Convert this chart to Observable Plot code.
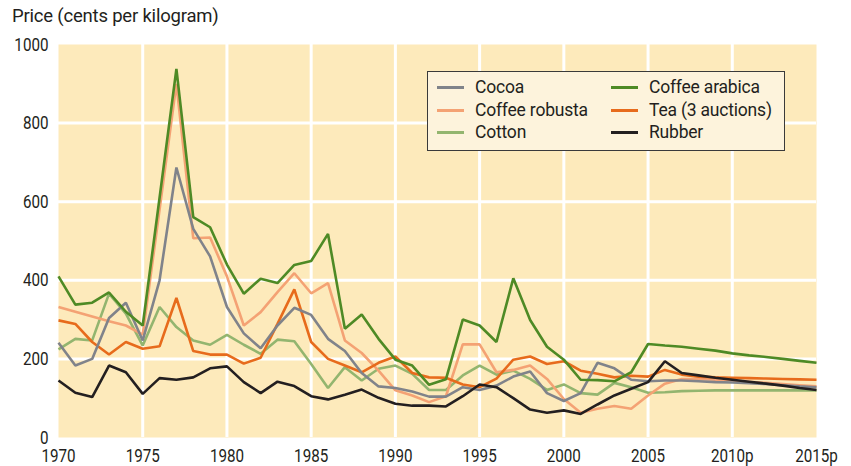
<!DOCTYPE html>
<html>
<head>
<meta charset="utf-8">
<script src="https://cdn.jsdelivr.net/npm/d3@7"></script>
<script src="https://cdn.jsdelivr.net/npm/@observablehq/plot@0.6"></script>
<style>
  html, body { margin: 0; padding: 0; background: #ffffff; }
  #wrap { position: relative; width: 851px; height: 466px; font-family: "Roboto", sans-serif; color: #231f20; }
  #title { position: absolute; left: 12px; top: 5px; font-size: 18.5px; line-height: 22px; white-space: nowrap; letter-spacing: -0.2px; }
  #legend { position: absolute; left: 427px; top: 71px; width: 358px; height: 80px; background: #fdf3dc; border: 1.3px solid #3a3a3a; box-sizing: border-box; }
  .item { position: absolute; font-size: 17.5px; line-height: 20px; white-space: nowrap; letter-spacing: -0.2px; }
  .sw { position: absolute; top: 9px; width: 27px; height: 3px; }
  .lbl { position: absolute; left: 38px; top: 0; }
</style>
</head>
<body>
<div id="wrap">
  <div id="chart"></div>
  <div id="title">Price (cents per kilogram)</div>
  <div id="legend"></div>
</div>
<script>
const years = d3.range(1970, 2016);
const seriesNames = ["Cocoa", "Coffee robusta", "Cotton", "Coffee arabica", "Tea (3 auctions)", "Rubber"];
const seriesColors = ["#80838a", "#f4a274", "#93b56f", "#4e8a25", "#e76b1c", "#231f20"];

const cocoa = [241, 183, 200, 304, 343, 247, 400, 687, 531, 461, 332, 265, 227, 285, 330, 312, 251, 220, 164, 130, 126, 117, 104, 104, 128, 121, 132, 155, 168, 113, 93, 113, 190, 176, 147, 143, 145, 145, 143, 141, 140, 138, 136, 133, 130, 128];
const coffeeRobusta = [332, 320, 308, 296, 285, 262, 580, 900, 507, 509, 410, 285, 319, 370, 418, 367, 393, 247, 215, 170, 120, 107, 90, 105, 237, 237, 166, 172, 183, 149, 98, 63, 73, 80, 73, 107, 137, 149, 149, 147, 145, 142, 139, 136, 133, 130];
const cotton = [224, 251, 247, 366, 315, 234, 332, 281, 247, 236, 261, 236, 213, 249, 245, 187, 126, 179, 145, 175, 183, 162, 121, 121, 158, 183, 160, 170, 149, 121, 135, 113, 109, 139, 128, 114, 115, 118, 119, 120, 120, 120, 120, 120, 120, 120];
const coffeeArabica = [410, 338, 343, 369, 320, 285, 610, 938, 561, 535, 440, 366, 404, 393, 439, 449, 518, 277, 313, 251, 198, 183, 134, 148, 300, 285, 243, 405, 299, 231, 198, 147, 146, 143, 166, 238, 234, 231, 226, 221, 214, 209, 205, 200, 195, 190];
const tea = [298, 289, 243, 211, 243, 226, 232, 355, 220, 211, 211, 188, 203, 289, 377, 243, 200, 183, 166, 190, 206, 164, 153, 152, 135, 128, 150, 198, 206, 187, 194, 170, 162, 153, 157, 155, 172, 160, 155, 153, 152, 151, 150, 149, 148, 147];
const rubber = [145, 114, 103, 183, 166, 111, 151, 147, 153, 176, 181, 141, 113, 142, 131, 105, 97, 109, 122, 101, 86, 81, 81, 79, 105, 135, 128, 100, 71, 63, 69, 60, 84, 107, 124, 141, 194, 164, 158, 152, 147, 142, 137, 132, 126, 121];

const xTicks = [1970, 1975, 1980, 1985, 1990, 1995, 2000, 2005, 2010, 2015];
const xTickLabels = ["1970", "1975", "1980", "1985", "1990", "1995", "2000", "2005", "2010p", "2015p"];
const yTicks = [0, 200, 400, 600, 800, 1000];
const yGrid = [200, 400, 600, 800];
const xGrid = [1975, 1980, 1985, 1990, 1995, 2000, 2005, 2010];

const seriesValues = [cocoa, coffeeRobusta, cotton, coffeeArabica, tea, rubber];
const drawOrder = ["Cotton", "Coffee robusta", "Tea (3 auctions)", "Cocoa", "Rubber", "Coffee arabica"];
const rows = [];
for (const name of drawOrder) {
  const vals = seriesValues[seriesNames.indexOf(name)];
  years.forEach((y, i) => rows.push({series: name, year: y, value: vals[i]}));
}

const fmtX = d => xTickLabels[xTicks.indexOf(d)];

const chart = Plot.plot({
  width: 851,
  height: 466,
  marginTop: 44,
  marginBottom: 29,
  marginLeft: 58,
  marginRight: 35,
  style: {fontFamily: '"Roboto", sans-serif', fontSize: "19px", color: "#231f20", background: "transparent", overflow: "visible"},
  x: {domain: [1970, 2015], label: null},
  y: {domain: [0, 1000], label: null},
  color: {domain: seriesNames, range: seriesColors},
  marks: [
    Plot.frame({fill: "#fdeabb", stroke: null}),
    Plot.ruleY(yGrid, {stroke: "#ffffff", strokeWidth: 3, strokeOpacity: 1}),
    Plot.ruleX(xGrid, {stroke: "#ffffff", strokeWidth: 3, strokeOpacity: 1}),
    Plot.axisX({ticks: xTicks, tickFormat: fmtX, tickSize: 0, tickPadding: 11, fontSize: 19}),
    Plot.axisY({ticks: yTicks, tickFormat: d => String(d), tickSize: 0, tickPadding: 10, fontSize: 19}),
    Plot.line(rows, {x: "year", y: "value", z: "series", stroke: "series", strokeWidth: 2.6, strokeLinejoin: "miter", strokeLinecap: "butt"})
  ]
});
document.getElementById("chart").appendChild(chart);

// condense axis tick labels horizontally around their anchor point
chart.querySelectorAll('g[aria-label="x-axis tick label"] text, g[aria-label="y-axis tick label"] text').forEach(t => {
  const tr = t.getAttribute("transform") || "";
  t.setAttribute("transform", tr + " scale(0.8,1)");
});

// legend built from series names and colors
const legend = document.getElementById("legend");
const legendLayout = [["Cocoa", 0, 0], ["Coffee robusta", 0, 1], ["Cotton", 0, 2], ["Coffee arabica", 1, 0], ["Tea (3 auctions)", 1, 1], ["Rubber", 1, 2]];
for (const [name, col, row] of legendLayout) {
  const it = document.createElement("div");
  it.className = "item";
  it.style.left = (col === 0 ? 9 : 183) + "px";
  it.style.top = (5 + row * 22.5) + "px";
  const sw = document.createElement("div");
  sw.className = "sw";
  sw.style.background = seriesColors[seriesNames.indexOf(name)];
  const lb = document.createElement("div");
  lb.className = "lbl";
  lb.textContent = name;
  it.appendChild(sw);
  it.appendChild(lb);
  legend.appendChild(it);
}
</script>
</body>
</html>
